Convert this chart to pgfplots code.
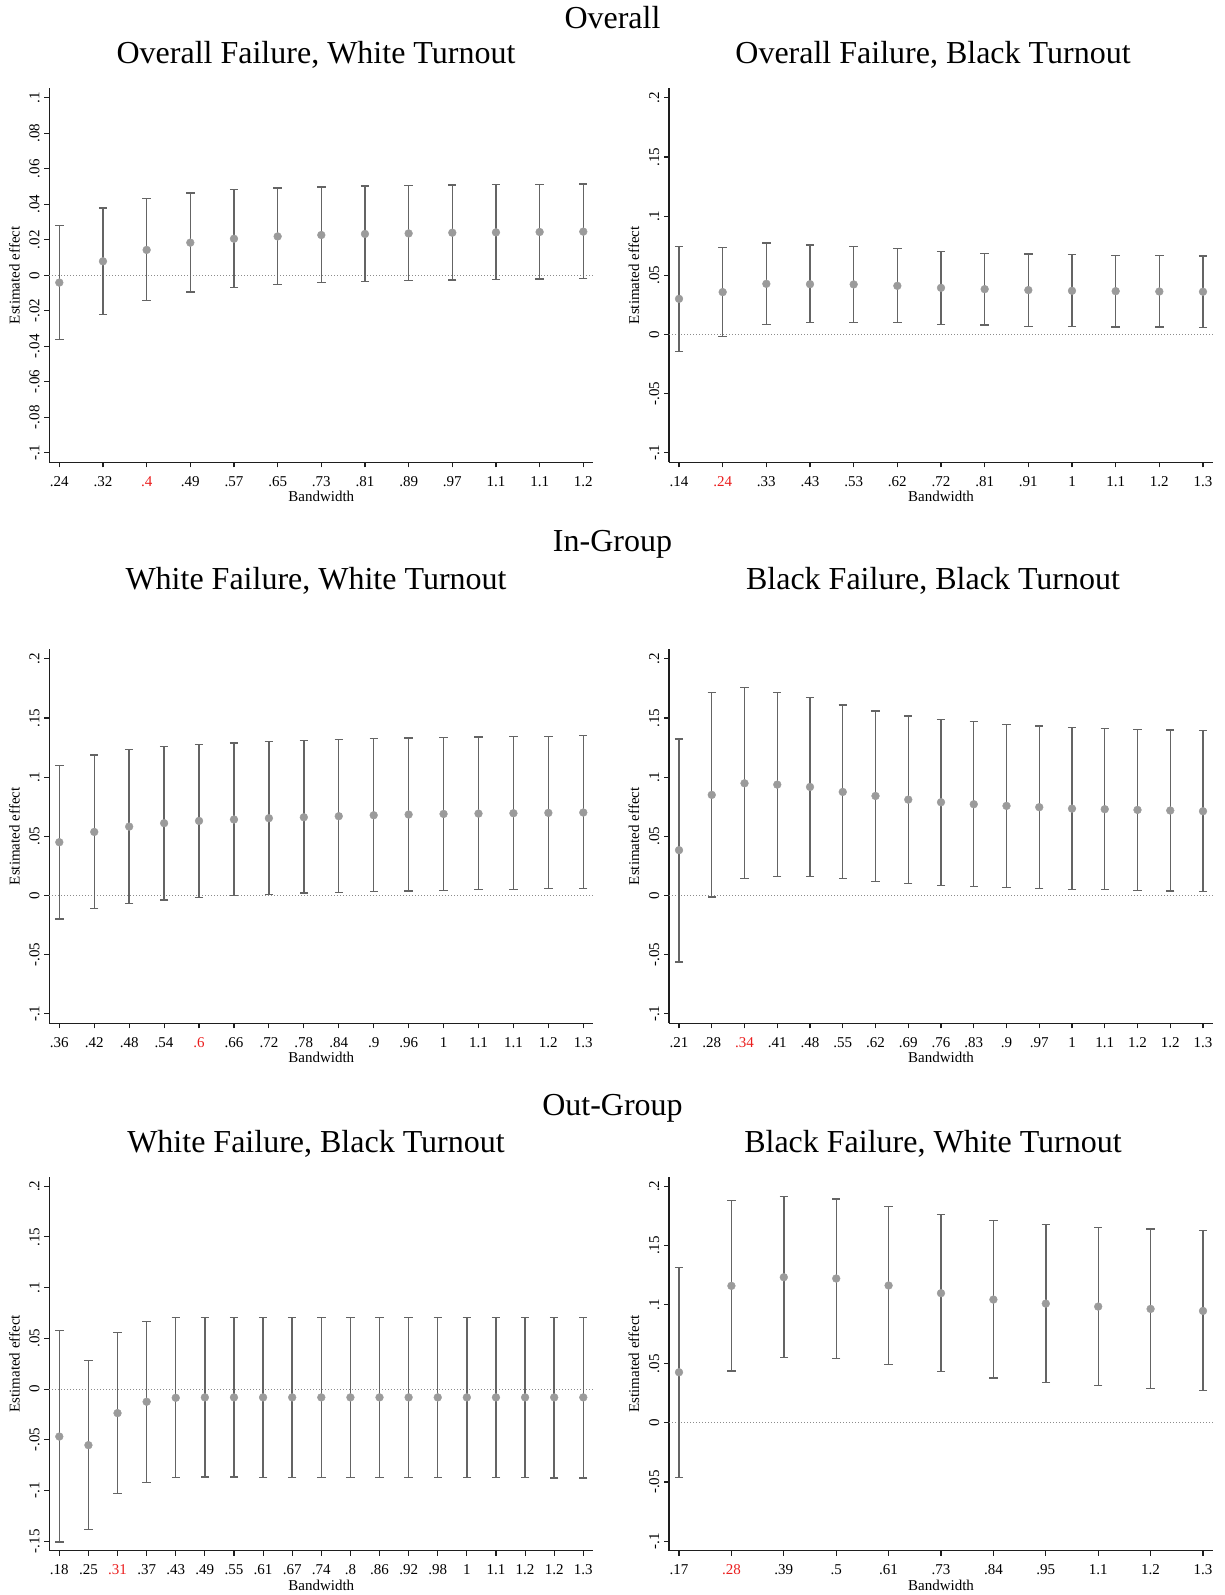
\documentclass[border=0pt]{standalone}
\usepackage{fontspec}
\setmainfont{Liberation Serif}
\usepackage{pgfplots}
\usepackage{pgfplotstable}
\pgfplotsset{compat=1.18}

\definecolor{markgray}{RGB}{155,155,155}
\definecolor{bargray}{RGB}{100,100,100}
\definecolor{axcol}{RGB}{30,30,30}
\definecolor{zerogray}{RGB}{140,140,140}
\definecolor{optred}{RGB}{235,30,30}

\newcommand\tickfont{\fontsize{15bp}{18bp}\selectfont}
\newcommand\titlefont{\fontsize{32bp}{38bp}\selectfont}

% columns: i = position, b = estimate, lo/hi = 95% confidence interval
\pgfplotstableread{
i b lo hi
0 -0.0041 -0.0362 0.0280
1 0.0079 -0.0220 0.0379
2 0.0143 -0.0141 0.0432
3 0.0184 -0.0094 0.0463
4 0.0206 -0.0068 0.0482
5 0.0219 -0.0051 0.0492
6 0.0227 -0.0041 0.0497
7 0.0233 -0.0036 0.0503
8 0.0236 -0.0030 0.0507
9 0.0240 -0.0026 0.0508
10 0.0242 -0.0023 0.0510
11 0.0244 -0.0021 0.0512
12 0.0246 -0.0019 0.0514
}\overallWhite

\pgfplotstableread{
i b lo hi
0 0.0301 -0.0141 0.0746
1 0.0358 -0.0017 0.0735
2 0.0428 0.0087 0.0772
3 0.0425 0.0099 0.0755
4 0.0423 0.0104 0.0744
5 0.0411 0.0099 0.0724
6 0.0394 0.0087 0.0704
7 0.0383 0.0079 0.0687
8 0.0375 0.0070 0.0679
9 0.0369 0.0065 0.0676
10 0.0366 0.0062 0.0670
11 0.0363 0.0062 0.0665
12 0.0361 0.0059 0.0662
}\overallBlack

\pgfplotstableread{
i b lo hi
0 0.0450 -0.0200 0.1100
1 0.0537 -0.0113 0.1187
2 0.0582 -0.0068 0.1232
3 0.0611 -0.0037 0.1258
4 0.0630 -0.0017 0.1277
5 0.0642 -0.0003 0.1289
6 0.0653 0.0008 0.1303
7 0.0661 0.0020 0.1311
8 0.0670 0.0025 0.1320
9 0.0678 0.0034 0.1325
10 0.0684 0.0039 0.1331
11 0.0689 0.0045 0.1334
12 0.0692 0.0048 0.1339
13 0.0695 0.0051 0.1342
14 0.0698 0.0056 0.1345
15 0.0701 0.0059 0.1351
}\whiteWhite

\pgfplotstableread{
i b lo hi
0 0.0383 -0.0563 0.1322
1 0.0850 -0.0014 0.1716
2 0.0948 0.0146 0.1756
3 0.0937 0.0160 0.1714
4 0.0917 0.0158 0.1674
5 0.0875 0.0144 0.1610
6 0.0841 0.0121 0.1559
7 0.0810 0.0104 0.1517
8 0.0788 0.0087 0.1488
9 0.0771 0.0076 0.1469
10 0.0757 0.0068 0.1446
11 0.0746 0.0059 0.1432
12 0.0734 0.0053 0.1421
13 0.0729 0.0048 0.1412
14 0.0723 0.0042 0.1404
15 0.0718 0.0037 0.1399
16 0.0712 0.0034 0.1393
}\blackBlack

\pgfplotstableread{
i b lo hi
0 -0.0468 -0.1509 0.0576
1 -0.0553 -0.1387 0.0280
2 -0.0237 -0.1031 0.0560
3 -0.0125 -0.0919 0.0665
4 -0.0086 -0.0870 0.0705
5 -0.0082 -0.0866 0.0708
6 -0.0082 -0.0866 0.0708
7 -0.0082 -0.0869 0.0708
8 -0.0082 -0.0869 0.0708
9 -0.0082 -0.0869 0.0708
10 -0.0082 -0.0869 0.0708
11 -0.0082 -0.0869 0.0708
12 -0.0082 -0.0869 0.0708
13 -0.0082 -0.0869 0.0708
14 -0.0082 -0.0872 0.0708
15 -0.0082 -0.0872 0.0708
16 -0.0082 -0.0872 0.0708
17 -0.0082 -0.0876 0.0708
18 -0.0082 -0.0876 0.0708
}\whiteBlack

\pgfplotstableread{
i b lo hi
0 0.0428 -0.0462 0.1313
1 0.1158 0.0439 0.1879
2 0.1231 0.0552 0.1915
3 0.1220 0.0546 0.1893
4 0.1161 0.0496 0.1828
5 0.1096 0.0437 0.1763
6 0.1042 0.0380 0.1710
7 0.1008 0.0344 0.1679
8 0.0983 0.0313 0.1654
9 0.0963 0.0290 0.1639
10 0.0946 0.0273 0.1625
}\blackWhite

\tikzset{zeroline/.style={zerogray, line width=0.8bp, dash pattern=on 1bp off 2bp}}

\pgfplotsset{
  rdpanel/.style={
    scale only axis, width=544bp, height=374bp,
    anchor=south west,
    axis x line*=bottom, axis y line*=left,
    axis line style={line width=1.2bp, axcol},
    tick style={line width=1.1bp, axcol},
    major tick length=5bp, tick align=outside,
    xtick=data,
    enlarge x limits=0.0191, enlarge y limits=0.0268,
    tick label style={font=\tickfont, text=black},
    xticklabel style={anchor=base, yshift=-19bp},
    yticklabel style={rotate=90, anchor=south, inner xsep=0pt, inner ysep=4.5bp},
    xlabel={Bandwidth}, ylabel={Estimated effect},
    label style={font=\tickfont},
    xlabel style={at={(rel axis cs:0.5,-0.0914)}, anchor=center},
    ylabel style={at={(rel axis cs:-0.0643,0.5)}, anchor=center},
    clip=false,
  },
  ciplot/.style={
    only marks, mark=*, mark size=3.9bp,
    mark options={fill=markgray, draw=markgray},
    error bars/.cd, y dir=both, y explicit,
    error bar style={bargray, line width=1.4bp},
    error mark=-,
    error mark options={bargray, line width=1.3bp, mark size=4.2bp, rotate=90},
  },
}

\newcommand\zeroref{\draw[zeroline] ({rel axis cs:0,0} |- {axis cs:0,0}) -- ({rel axis cs:1,0} |- {axis cs:0,0});}
\newcommand\ciseries[1]{\addplot[ciplot] table[x=i, y=b, y error plus expr=\thisrow{hi}-\thisrow{b}, y error minus expr=\thisrow{b}-\thisrow{lo}] {#1};}

\begin{document}
\begin{tikzpicture}
\useasboundingbox[fill=white] (0bp,0bp) rectangle (1225bp,-1595bp);

% ---------------- Overall ----------------
\node[font=\titlefont, anchor=base] at (612.5bp,-28.3bp) {Overall};
\node[font=\titlefont, anchor=base] at (316bp,-63.5bp) {Overall Failure, White Turnout};
\node[font=\titlefont, anchor=base] at (933bp,-63.5bp) {Overall Failure, Black Turnout};

\begin{axis}[rdpanel, at={(49.3bp,-462.3bp)},
  ymin=-0.1, ymax=0.1,
  ytick={-0.1,-0.08,-0.06,-0.04,-0.02,0,0.02,0.04,0.06,0.08,0.1},
  yticklabels={-.1,-.08,-.06,-.04,-.02,0,.02,.04,.06,.08,.1},
  xticklabels={.24,.32,{\textcolor{optred}{.4}},.49,.57,.65,.73,.81,.89,.97,1.1,1.1,1.2}]
\zeroref
\ciseries{\overallWhite}
\end{axis}

\begin{axis}[rdpanel, at={(669bp,-462.3bp)},
  ymin=-0.1, ymax=0.2,
  ytick={-0.1,-0.05,0,0.05,0.1,0.15,0.2},
  yticklabels={-.1,-.05,0,.05,.1,.15,.2},
  xticklabels={.14,{\textcolor{optred}{.24}},.33,.43,.53,.62,.72,.81,.91,1,1.1,1.2,1.3}]
\zeroref
\ciseries{\overallBlack}
\end{axis}

% ---------------- In-Group ----------------
\node[font=\titlefont, anchor=base] at (612.5bp,-551.5bp) {In-Group};
\node[font=\titlefont, anchor=base] at (316bp,-589bp) {White Failure, White Turnout};
\node[font=\titlefont, anchor=base] at (933bp,-589bp) {Black Failure, Black Turnout};

\begin{axis}[rdpanel, at={(49.3bp,-1023.3bp)},
  ymin=-0.1, ymax=0.2,
  ytick={-0.1,-0.05,0,0.05,0.1,0.15,0.2},
  yticklabels={-.1,-.05,0,.05,.1,.15,.2},
  xticklabels={.36,.42,.48,.54,{\textcolor{optred}{.6}},.66,.72,.78,.84,.9,.96,1,1.1,1.1,1.2,1.3}]
\zeroref
\ciseries{\whiteWhite}
\end{axis}

\begin{axis}[rdpanel, at={(669bp,-1023.3bp)},
  ymin=-0.1, ymax=0.2,
  ytick={-0.1,-0.05,0,0.05,0.1,0.15,0.2},
  yticklabels={-.1,-.05,0,.05,.1,.15,.2},
  xticklabels={.21,.28,{\textcolor{optred}{.34}},.41,.48,.55,.62,.69,.76,.83,.9,.97,1,1.1,1.2,1.2,1.3}]
\zeroref
\ciseries{\blackBlack}
\end{axis}

% ---------------- Out-Group ----------------
\node[font=\titlefont, anchor=base] at (612.5bp,-1115bp) {Out-Group};
\node[font=\titlefont, anchor=base] at (316bp,-1152.5bp) {White Failure, Black Turnout};
\node[font=\titlefont, anchor=base] at (933bp,-1152.5bp) {Black Failure, White Turnout};

\begin{axis}[rdpanel, at={(49.3bp,-1550.7bp)},
  ymin=-0.15, ymax=0.2,
  ytick={-0.15,-0.1,-0.05,0,0.05,0.1,0.15,0.2},
  yticklabels={-.15,-.1,-.05,0,.05,.1,.15,.2},
  xticklabels={.18,.25,{\textcolor{optred}{.31}},.37,.43,.49,.55,.61,.67,.74,.8,.86,.92,.98,1,1.1,1.2,1.2,1.3}]
\zeroref
\ciseries{\whiteBlack}
\end{axis}

\begin{axis}[rdpanel, at={(669bp,-1550.7bp)},
  ymin=-0.1, ymax=0.2,
  ytick={-0.1,-0.05,0,0.05,0.1,0.15,0.2},
  yticklabels={-.1,-.05,0,.05,.1,.15,.2},
  xticklabels={.17,{\textcolor{optred}{.28}},.39,.5,.61,.73,.84,.95,1.1,1.2,1.3}]
\zeroref
\ciseries{\blackWhite}
\end{axis}
\end{tikzpicture}
\end{document}
